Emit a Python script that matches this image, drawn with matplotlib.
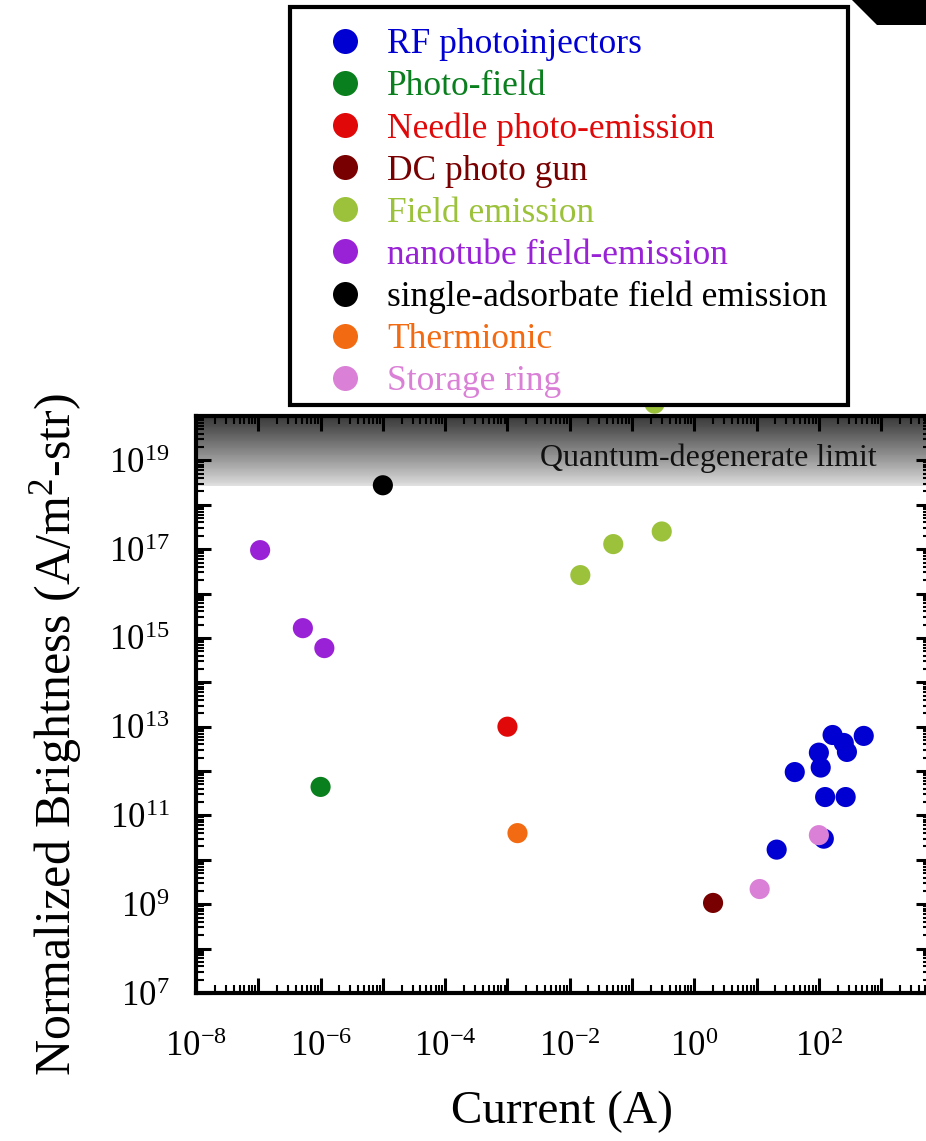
import numpy as np
import matplotlib
matplotlib.use("Agg")
import matplotlib.pyplot as plt
from matplotlib.lines import Line2D
from matplotlib.patches import Polygon, Rectangle

plt.rcParams['font.family'] = ['Liberation Serif', 'DejaVu Serif']
plt.rcParams['mathtext.fontset'] = 'custom'
plt.rcParams['mathtext.rm'] = 'Liberation Serif'
plt.rcParams['mathtext.it'] = 'Liberation Serif:italic'
plt.rcParams['mathtext.bf'] = 'Liberation Serif:bold'

# ---------------- data ----------------
categories = ["RF photoinjectors", "Photo-field", "Needle photo-emission", "DC photo gun",
              "Field emission", "nanotube field-emission", "single-adsorbate field emission",
              "Thermionic", "Storage ring"]
colors = ["#0000D2", "#0A7F1E", "#E00808", "#780000", "#9CC23C", "#9A22D6",
          "#000000", "#F26A12", "#DA80D6"]

rf_current = [41, 21, 100, 107, 166, 251, 282, 525, 126, 269, 120]
rf_bright = [9.5e11, 1.7e10, 2.6e12, 1.2e12, 6.5e12, 4.3e12, 2.7e12, 6.2e12, 2.6e11, 2.6e11, 3.0e10]
pf_current = [1.0e-6]
pf_bright = [4.4e11]
needle_current = [1.0e-3]
needle_bright = [1.0e13]
dc_current = [2.0]
dc_bright = [1.07e9]
fe_current = [0.0148, 0.050, 0.30, 0.23]
fe_bright = [2.6e16, 1.3e17, 2.5e17, 1.9e20]
nt_current = [1.07e-7, 5.2e-7, 1.15e-6]
nt_bright = [9.5e16, 1.66e15, 5.9e14]
sa_current = [1.0e-5]
sa_bright = [2.75e18]
th_current = [1.45e-3]
th_bright = [4.0e10]
sr_current = [11.2, 100]
sr_bright = [2.2e9, 3.6e10]

series_x = [rf_current, pf_current, needle_current, dc_current, fe_current,
            nt_current, sa_current, th_current, sr_current]
series_y = [rf_bright, pf_bright, needle_bright, dc_bright, fe_bright,
            nt_bright, sa_bright, th_bright, sr_bright]

x_label_exps = [-8, -6, -4, -2, 0, 2]
y_label_exps = [7, 9, 11, 13, 15, 17, 19]
quantum_limit = 10 ** 18.42
x_range = (1e-8, 10 ** 3.8)
y_range = (1e7, 1e20)

# ---------------- figure ----------------
W, H = 926, 1141
fig = plt.figure(figsize=(W / 100, H / 100), dpi=100)
ax_l, ax_r, ax_b, ax_t = 196, 931, 993, 416
ax = fig.add_axes([ax_l / W, 1 - ax_b / H, (ax_r - ax_l) / W, (ax_b - ax_t) / H])
ax.set_xscale('log')
ax.set_yscale('log')
ax.set_xlim(*x_range)
ax.set_ylim(*y_range)

# quantum-degenerate gradient band
nb = 80
edges = np.logspace(np.log10(quantum_limit), np.log10(y_range[1]), nb + 1)
for i in range(nb):
    f = i / (nb - 1)
    g = 0.88 - 0.66 * f ** 0.9
    ax.axhspan(edges[i], edges[i + 1], color=(g, g, g), lw=0, zorder=0)
ax.text(10 ** 0.23, 10 ** 19.05, "Quantum-degenerate limit", fontsize=23,
        ha='center', va='center', color='#111111', zorder=1)

for xs, ys, c, lab in zip(series_x, series_y, colors, categories):
    ax.scatter(xs, ys, s=210, color=c, edgecolors='none', label=lab,
               zorder=3, clip_on=False)

# ticks
ax.set_xticks([10.0 ** e for e in range(-8, 4)])
ax.set_xticklabels([r"$\mathrm{10^{%d}}$" % e if e in x_label_exps else "" for e in range(-8, 4)])
ax.set_yticks([10.0 ** e for e in range(7, 21)])
ax.set_yticklabels([r"$\mathrm{10^{%d}}$" % e if e in y_label_exps else "" for e in range(7, 21)])
ax.xaxis.set_minor_locator(matplotlib.ticker.LogLocator(base=10, subs=np.arange(2, 10), numticks=50))
ax.yaxis.set_minor_locator(matplotlib.ticker.LogLocator(base=10, subs=np.arange(2, 10), numticks=50))
ax.xaxis.set_minor_formatter(matplotlib.ticker.NullFormatter())
ax.yaxis.set_minor_formatter(matplotlib.ticker.NullFormatter())
ax.tick_params(which='both', direction='in', top=True, right=True, color='black')
ax.tick_params(which='major', length=11, width=2.2, labelsize=25)
ax.tick_params(which='minor', length=5.5, width=1.5)
ax.tick_params(axis='x', which='major', pad=27)
ax.tick_params(axis='y', which='major', pad=19)
for sp in ax.spines.values():
    sp.set_linewidth(3)
    sp.set_zorder(4)

ax.set_xlabel("Current (A)", fontsize=34, va='center')
ax.xaxis.set_label_coords((562 - ax_l) / (ax_r - ax_l), -(1112 - ax_b) / (ax_b - ax_t))
ax.set_ylabel(r"Normalized Brightness (A/m$^{2}$-str)", fontsize=36, va='center')
ax.yaxis.set_label_coords((56 - ax_l) / (ax_r - ax_l), (ax_b - 735) / (ax_b - ax_t))

# legend frame (drawn separately so its box matches exactly)
fig.patches.append(Rectangle((290 / W, 1 - 405 / H), (848 - 290) / W, (405 - 7) / H,
                             transform=fig.transFigure, facecolor='white',
                             edgecolor='black', linewidth=3, zorder=9))
handles = [Line2D([], [], marker='o', ls='none', markersize=18, markerfacecolor=c,
                  markeredgecolor='none') for c in colors]
leg = fig.legend(handles, categories, loc='upper left',
                 bbox_to_anchor=(290 / W, 1 - 5 / H, (848 - 290) / W, 0.0),
                 bbox_transform=fig.transFigure, mode='expand',
                 fontsize=25.5, frameon=False, borderaxespad=0,
                 borderpad=0.65, handlelength=1.8, handletextpad=0.29,
                 labelspacing=0.255)
leg.set_zorder(10)
for t, c in zip(leg.get_texts(), colors):
    t.set_color(c)

# cropped decoration at the top-right corner
fig.patches.append(Polygon([(852 / W, 1.0), (1.0, 1.0), (1.0, 1 - 25 / H), (877 / W, 1 - 25 / H)],
                           closed=True, transform=fig.transFigure, facecolor='black',
                           edgecolor='none'))

fig.savefig("out.png", dpi=100)
